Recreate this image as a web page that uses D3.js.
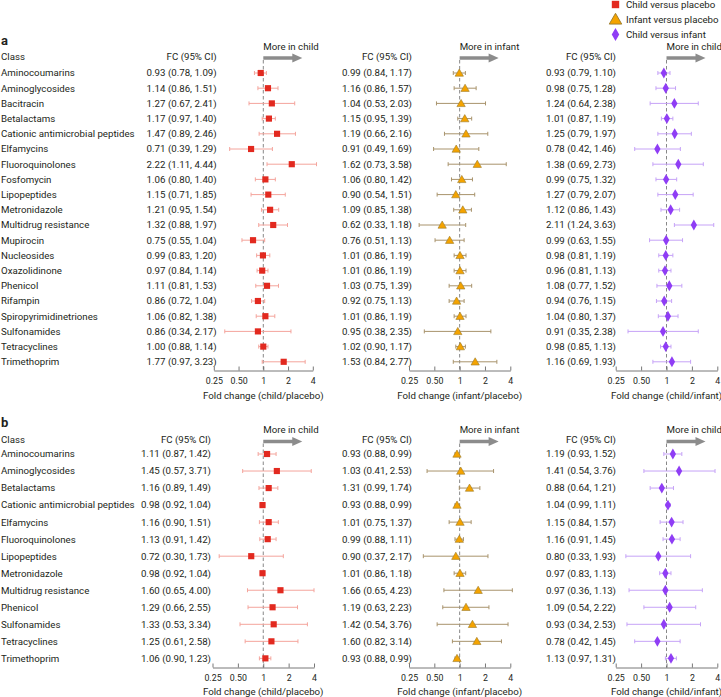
<!DOCTYPE html>
<html><head><meta charset="utf-8">
<script src="https://cdn.jsdelivr.net/npm/d3@7"></script>
<style>
body{margin:0;background:#fff;}
svg text{font-family:Roboto,"Liberation Sans",Arial,sans-serif;fill:#231f20;}
</style></head>
<body><svg id="chart" width="721" height="697"></svg>
<script>
// ---------- DATA ----------
const classesA = ["Aminocoumarins","Aminoglycosides","Bacitracin","Betalactams","Cationic antimicrobial peptides","Elfamycins","Fluoroquinolones","Fosfomycin","Lipopeptides","Metronidazole","Multidrug resistance","Mupirocin","Nucleosides","Oxazolidinone","Phenicol","Rifampin","Spiropyrimidinetriones","Sulfonamides","Tetracyclines","Trimethoprim"];
const childPlaceboA = [[0.93,0.78,1.09],[1.14,0.86,1.51],[1.27,0.67,2.41],[1.17,0.97,1.40],[1.47,0.89,2.46],[0.71,0.39,1.29],[2.22,1.11,4.44],[1.06,0.80,1.40],[1.15,0.71,1.85],[1.21,0.95,1.54],[1.32,0.88,1.97],[0.75,0.55,1.04],[0.99,0.83,1.20],[0.97,0.84,1.14],[1.11,0.81,1.53],[0.86,0.72,1.04],[1.06,0.82,1.38],[0.86,0.34,2.17],[1.00,0.88,1.14],[1.77,0.97,3.23]];
const infantPlaceboA = [[0.99,0.84,1.17],[1.16,0.86,1.57],[1.04,0.53,2.03],[1.15,0.95,1.39],[1.19,0.66,2.16],[0.91,0.49,1.69],[1.62,0.73,3.58],[1.06,0.80,1.42],[0.90,0.54,1.51],[1.09,0.85,1.38],[0.62,0.33,1.18],[0.76,0.51,1.13],[1.01,0.86,1.19],[1.01,0.86,1.19],[1.03,0.75,1.39],[0.92,0.75,1.13],[1.01,0.86,1.19],[0.95,0.38,2.35],[1.02,0.90,1.17],[1.53,0.84,2.77]];
const childInfantA = [[0.93,0.79,1.10],[0.98,0.75,1.28],[1.24,0.64,2.38],[1.01,0.87,1.19],[1.25,0.79,1.97],[0.78,0.42,1.46],[1.38,0.69,2.73],[0.99,0.75,1.32],[1.27,0.79,2.07],[1.12,0.86,1.43],[2.11,1.24,3.63],[0.99,0.63,1.55],[0.98,0.81,1.19],[0.96,0.81,1.13],[1.08,0.77,1.52],[0.94,0.76,1.15],[1.04,0.80,1.37],[0.91,0.35,2.38],[0.98,0.85,1.13],[1.16,0.69,1.93]];

const classesB = ["Aminocoumarins","Aminoglycosides","Betalactams","Cationic antimicrobial peptides","Elfamycins","Fluoroquinolones","Lipopeptides","Metronidazole","Multidrug resistance","Phenicol","Sulfonamides","Tetracyclines","Trimethoprim"];
const childPlaceboB = [[1.11,0.87,1.42],[1.45,0.57,3.71],[1.16,0.89,1.49],[0.98,0.92,1.04],[1.16,0.90,1.51],[1.13,0.91,1.42],[0.72,0.30,1.73],[0.98,0.92,1.04],[1.60,0.65,4.00],[1.29,0.66,2.55],[1.33,0.53,3.34],[1.25,0.61,2.58],[1.06,0.90,1.23]];
const infantPlaceboB = [[0.93,0.88,0.99],[1.03,0.41,2.53],[1.31,0.99,1.74],[0.93,0.88,0.99],[1.01,0.75,1.37],[0.99,0.88,1.11],[0.90,0.37,2.17],[1.01,0.86,1.18],[1.66,0.65,4.23],[1.19,0.63,2.23],[1.42,0.54,3.76],[1.60,0.82,3.14],[0.93,0.88,0.99]];
const childInfantB = [[1.19,0.93,1.52],[1.41,0.54,3.76],[0.88,0.64,1.21],[1.04,0.99,1.11],[1.15,0.84,1.57],[1.16,0.91,1.45],[0.80,0.33,1.93],[0.97,0.83,1.13],[0.97,0.36,2.66],[1.09,0.54,2.22],[0.93,0.34,2.53],[0.78,0.42,1.45],[1.13,0.97,1.31]];
// printed label differs from drawn interval in the source figure
const labelOverrideB = {"2-8":"0.97 (0.36, 1.13)"};

const tickValues = [0.25,0.5,1,2,4];
const tickLabels = ["0.25","0.50","1","2","4"];
const legendLabels = ["Child versus placebo","Infant versus placebo","Child versus infant"];
const arrowLabels = ["More in child","More in infant","More in child"];
const axisTitles = ["Fold change (child/placebo)","Fold change (infant/placebo)","Fold change (child/infant)"];

// ---------- STYLE ----------
const series = [
  {marker:"square", fill:"#e2291f", stroke:"none", ci:"#f4a49c"},
  {marker:"triangle", fill:"#f4a300", stroke:"#9a7a2a", ci:"#a8936c"},
  {marker:"diamond", fill:"#8f3df5", stroke:"none", ci:"#c6a3f7"}
];
const svg = d3.select("#chart");
const FS = 9.7;

function symbolPath(kind){
  if(kind==="square") return d3.symbol(d3.symbolSquare, 38)();
  if(kind==="triangle") return d3.symbol(d3.symbolTriangle, 30)();
  return d3.symbol(d3.symbolDiamond, 34)();
}

// legend
legendLabels.forEach((lab,i)=>{
  const y = 4.5 + i*15;
  svg.append("path").attr("d", symbolPath(series[i].marker))
    .attr("transform", `translate(615.5,${y + (i===1?1:0)})` + (i===1?" scale(1.5)":" scale(1.2)"))
    .attr("fill", series[i].fill).attr("stroke", series[i].stroke).attr("stroke-width",0.6);
  svg.append("text").attr("x",626).attr("y",y).attr("dy","0.35em").attr("font-size",FS).text(lab);
});

function drawPanel(cfg){
  const g = svg.append("g");
  const n = cfg.classes.length;
  const yRow = i => cfg.rowY0 + i*cfg.rowStep;
  g.append("text").attr("x",1).attr("y",cfg.letterY).attr("dy","0.35em")
    .attr("font-size",13).attr("font-weight","bold").text(cfg.letter);
  g.append("text").attr("x",1).attr("y",cfg.headerY).attr("dy","0.35em").attr("font-size",FS).text("Class");
  g.selectAll(".cls").data(cfg.classes).enter().append("text")
    .attr("x",1).attr("y",(d,i)=>yRow(i)).attr("dy","0.35em").attr("font-size",FS).text(d=>d);
  cfg.cols.forEach((col,ci)=>{
    const x = d3.scaleLog().base(2).domain([0.25,4]).range(col.range);
    const s = series[ci];
    // FC header and labels
    g.append("text").attr("x",col.textRight).attr("y",cfg.headerY).attr("dy","0.35em")
      .attr("text-anchor","end").attr("font-size",FS).text("FC (95% CI)");
    g.selectAll(null).data(col.data).enter().append("text")
      .attr("x",col.textRight).attr("y",(d,i)=>yRow(i)).attr("dy","0.35em")
      .attr("text-anchor","end").attr("font-size",FS)
      .text((d,i)=> (cfg.overrides && cfg.overrides[ci+"-"+i]) || `${d[0].toFixed(2)} (${d[1].toFixed(2)}, ${d[2].toFixed(2)})`);
    // arrow
    const x1 = x(1);
    g.append("text").attr("x",x1).attr("y",cfg.arrowTextY).attr("dy","0.35em").attr("font-size",FS).text(arrowLabels[ci]);
    g.append("line").attr("x1",x1).attr("x2",x1+30).attr("y1",cfg.arrowY).attr("y2",cfg.arrowY)
      .attr("stroke","#8c8c8c").attr("stroke-width",3.5);
    g.append("path").attr("d",`M${x1+29},${cfg.arrowY-4.5}L${x1+39},${cfg.arrowY}L${x1+29},${cfg.arrowY+4.5}Z`).attr("fill","#8c8c8c");
    // reference line
    g.append("line").attr("x1",x1).attr("x2",x1).attr("y1",cfg.arrowY+2).attr("y2",cfg.axisY)
      .attr("stroke","#7a7a7a").attr("stroke-width",0.9).attr("stroke-dasharray","3.5,2.5");
    // axis
    const ax = d3.axisBottom(x).tickValues(tickValues).tickFormat((d,i)=>tickLabels[i]).tickSizeInner(4).tickSizeOuter(0).tickPadding(3);
    const axg = g.append("g").attr("transform",`translate(0,${cfg.axisY})`).call(ax);
    axg.select(".domain").attr("stroke","#555").attr("stroke-width",0.8);
    axg.selectAll(".tick line").attr("stroke","#555").attr("stroke-width",0.8).attr("y2",-4);
    axg.selectAll(".tick text").attr("font-size",8.8).attr("fill","#231f20")
      .attr("font-family","Roboto,'Liberation Sans',Arial,sans-serif").attr("y",7);
    g.append("text").attr("x",(col.range[0]+col.range[1])/2).attr("y",cfg.titleY).attr("dy","0.35em")
      .attr("text-anchor","middle").attr("font-size",FS).text(axisTitles[ci]);
    // whiskers
    const rows = g.selectAll(null).data(col.data).enter().append("g")
      .attr("transform",(d,i)=>`translate(0,${yRow(i)})`);
    rows.append("line").attr("x1",d=>x(d[1])).attr("x2",d=>x(d[2])).attr("y1",0).attr("y2",0)
      .attr("stroke",s.ci).attr("stroke-width",1);
    rows.append("line").attr("x1",d=>x(d[1])).attr("x2",d=>x(d[1])).attr("y1",-2).attr("y2",2).attr("stroke",s.ci).attr("stroke-width",1);
    rows.append("line").attr("x1",d=>x(d[2])).attr("x2",d=>x(d[2])).attr("y1",-2).attr("y2",2).attr("stroke",s.ci).attr("stroke-width",1);
    rows.append("path").attr("d",symbolPath(s.marker))
      .attr("transform",d=>`translate(${x(d[0])},${s.marker==="triangle"?0.8:0})`)
      .attr("fill",s.fill).attr("stroke",s.stroke).attr("stroke-width",0.6);
  });
}

drawPanel({
  letter:"a", letterY:40, headerY:57, arrowTextY:47, arrowY:58,
  rowY0:73, rowStep:15.2, axisY:370.5, titleY:396,
  classes:classesA,
  cols:[
    {data:childPlaceboA, range:[213.8,312.8], textRight:216.7},
    {data:infantPlaceboA, range:[409,510.3], textRight:412},
    {data:childInfantA, range:[615.7,717.3], textRight:616}
  ]
});
drawPanel({
  letter:"b", letterY:422, headerY:440, arrowTextY:430, arrowY:441.5,
  rowY0:454, rowStep:17.03, axisY:667.5, titleY:692,
  classes:classesB, overrides:labelOverrideB,
  cols:[
    {data:childPlaceboB, range:[212.5,314], textRight:211},
    {data:infantPlaceboB, range:[409,510.3], textRight:412},
    {data:childInfantB, range:[615.7,717.3], textRight:616}
  ]
});
</script></body></html>
